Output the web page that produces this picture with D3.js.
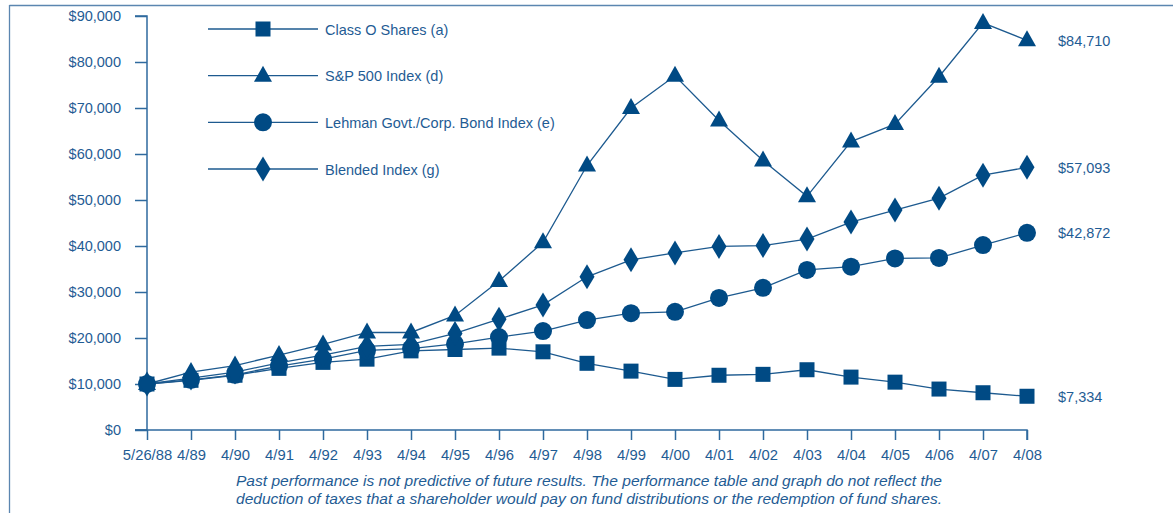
<!DOCTYPE html>
<html>
<head>
<meta charset="utf-8">
<script src="https://cdn.jsdelivr.net/npm/d3@7"></script>
<style>
  html, body { margin: 0; padding: 0; background: #fff; }
  svg { display: block; font-family: "Liberation Sans", Arial, Helvetica, sans-serif; }
</style>
</head>
<body>
<svg id="chart" width="1173" height="513"></svg>
<script>
// Period labels along the x axis
const periods = ["5/26/88","4/89","4/90","4/91","4/92","4/93","4/94","4/95","4/96","4/97","4/98",
                 "4/99","4/00","4/01","4/02","4/03","4/04","4/05","4/06","4/07","4/08"];

// Growth of a $10,000 investment
const classO   = [10000,10800,11900,13400,14700,15400,17200,17500,17800,17000,14500,
                  12800,11000,11900,12100,13100,11500,10400,8900,8100,7334];
const sp500    = [10000,12600,14000,16300,18600,21200,21200,24900,32400,40800,57500,
                  70000,77000,67300,58600,50800,62700,66500,76800,88500,84710];
const lehman   = [10000,10900,12000,13900,15400,17300,17700,18700,20200,21500,23900,
                  25400,25700,28700,30900,34800,35500,37300,37400,40200,42872];
const blended  = [10000,11300,12600,14600,16300,18200,18600,21000,24100,27200,33300,
                  37000,38500,39900,40100,41500,45200,47800,50400,55400,57093];

const yTicks = [0,10000,20000,30000,40000,50000,60000,70000,80000,90000];

const seriesNames = ["Class O Shares (a)","S&P 500 Index (d)","Lehman Govt./Corp. Bond Index (e)","Blended Index (g)"];
const endLabels = ["$7,334","$84,710","$42,872","$57,093"];

const series = [
  {name: seriesNames[0], values: classO,  shape: "square",   label: endLabels[0]},
  {name: seriesNames[1], values: sp500,   shape: "triangle", label: endLabels[1]},
  {name: seriesNames[2], values: lehman,  shape: "circle",   label: endLabels[2]},
  {name: seriesNames[3], values: blended, shape: "diamond",  label: endLabels[3]}
];

const footnote = [
  "Past performance is not predictive of future results. The performance table and graph do not reflect the",
  "deduction of taxes that a shareholder would pay on fund distributions or the redemption of fund shares."
];

const markColor = "#004a84";
const lineColor = "#1d5a8f";
const textColor = "#1f5c94";
const axisColor = "#2f6a9e";

const svg = d3.select("#chart");

// outer frame (top and left rules)
svg.append("line").attr("x1", 9.5).attr("x2", 1173).attr("y1", 5.5).attr("y2", 5.5)
  .attr("stroke", "#5b86b0").attr("stroke-width", 1.3);
svg.append("line").attr("x1", 9.5).attr("x2", 9.5).attr("y1", 5).attr("y2", 513)
  .attr("stroke", "#5b86b0").attr("stroke-width", 1.3);

const x = d3.scalePoint().domain(periods).range([147, 1027]);
const y = d3.scaleLinear().domain([0, 90000]).range([430, 16]);

// y axis
const yAxis = svg.append("g").attr("transform", "translate(147,0)")
  .call(d3.axisLeft(y).tickValues(yTicks).tickSize(12).tickPadding(14)
    .tickFormat(d => "$" + d3.format(",")(d)));
yAxis.select(".domain").attr("stroke", axisColor).attr("stroke-width", 1.5)
  .attr("d", `M-12,${y(90000)}H0V${y(0)}H-12`);
yAxis.selectAll(".tick line").attr("stroke", axisColor).attr("stroke-width", 1.5);
yAxis.selectAll(".tick text").attr("fill", textColor).attr("font-size", 14.5)
  .attr("font-family", "Liberation Sans, Arial, sans-serif");

// x axis
const xAxis = svg.append("g").attr("transform", "translate(0,430)")
  .call(d3.axisBottom(x).tickSize(10).tickPadding(9));
xAxis.select(".domain").attr("stroke", axisColor).attr("stroke-width", 1.5)
  .attr("d", `M${x(periods[0])},0H${x(periods[periods.length-1])}V10`);
xAxis.selectAll(".tick line").attr("stroke", axisColor).attr("stroke-width", 1.5);
xAxis.selectAll(".tick text").attr("fill", textColor).attr("font-size", 14.8)
  .attr("font-family", "Liberation Sans, Arial, sans-serif");
// extend x axis line to the left to meet the $0 tick
svg.append("line").attr("x1", 135).attr("x2", 147).attr("y1", 430).attr("y2", 430)
  .attr("stroke", axisColor).attr("stroke-width", 1.5);

// marker shapes
function drawMarker(g, shape) {
  if (shape === "square") {
    g.append("rect").attr("x", -7.5).attr("y", -7.5).attr("width", 15).attr("height", 15).attr("fill", markColor);
  } else if (shape === "triangle") {
    g.append("path").attr("d", "M0,-10L9,6L-9,6Z").attr("fill", markColor);
  } else if (shape === "circle") {
    g.append("circle").attr("r", 9).attr("fill", markColor);
  } else if (shape === "diamond") {
    g.append("path").attr("d", "M0,-12.5L7.5,0L0,12.5L-7.5,0Z").attr("fill", markColor);
  }
}

const line = d3.line().x((d, i) => x(periods[i])).y(d => y(d));

const plot = svg.append("g");
series.forEach(s => {
  plot.append("path").datum(s.values).attr("d", line)
    .attr("fill", "none").attr("stroke", lineColor).attr("stroke-width", 1.3);
});
series.forEach(s => {
  s.values.forEach((v, i) => {
    const g = plot.append("g").attr("transform", `translate(${x(periods[i])},${y(v)})`);
    drawMarker(g, s.shape);
  });
  // ending value label
  svg.append("text").attr("x", 1058).attr("y", y(s.values[s.values.length - 1]) + 5.5)
    .attr("fill", textColor).attr("font-size", 14.5).text(s.label);
});

// legend
const legendY = d3.scalePoint().domain(seriesNames).range([29, 169]);
series.forEach(s => {
  const ly = legendY(s.name);
  svg.append("line").attr("x1", 208).attr("x2", 318).attr("y1", ly).attr("y2", ly)
    .attr("stroke", lineColor).attr("stroke-width", 1.3);
  const g = svg.append("g").attr("transform", `translate(263,${ly})`);
  drawMarker(g, s.shape);
  svg.append("text").attr("x", 325).attr("y", ly + 5.5).attr("fill", textColor)
    .attr("font-size", 14.5).text(s.name);
});

// footnote
footnote.forEach((t, i) => {
  svg.append("text").attr("x", 236).attr("y", 486 + i * 18)
    .attr("textLength", 706).attr("lengthAdjust", "spacingAndGlyphs")
    .attr("fill", textColor).attr("font-size", 14.5).attr("font-style", "italic").text(t);
});
</script>
</body>
</html>
